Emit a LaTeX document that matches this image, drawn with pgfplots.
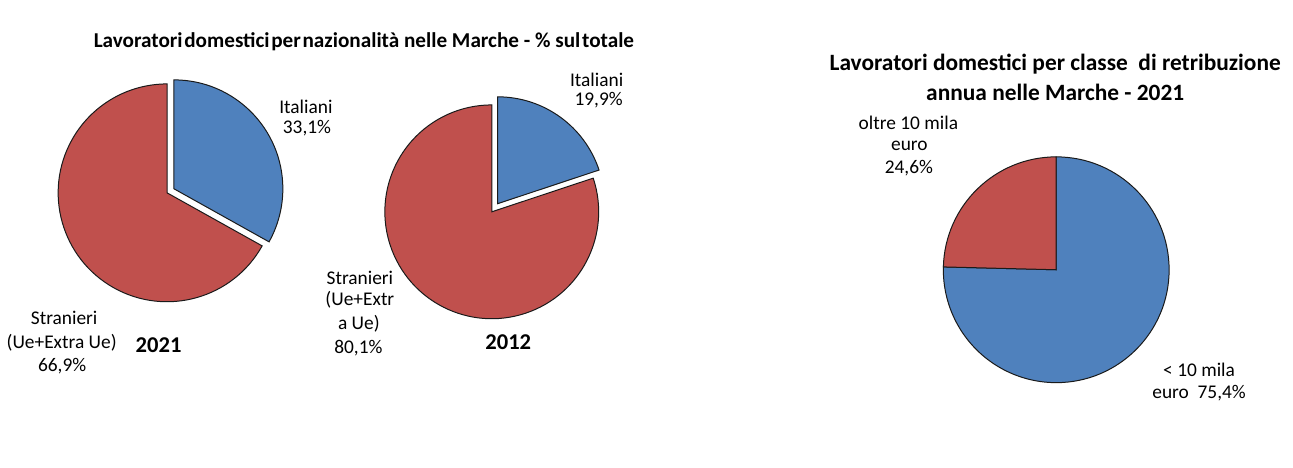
\documentclass[border=0pt]{standalone}
\usepackage{pgfplots}
\usepackage{pgfplotstable}
\pgfplotsset{compat=1.18}
\usepackage{fontspec}
\setmainfont{Carlito}
\definecolor{pieblue}{HTML}{4F81BD}
\definecolor{piered}{HTML}{C0504D}
\definecolor{edge}{HTML}{1A1A1A}

% quote percentuali
\pgfplotstableread{
anno italiani stranieri
2021 33.1     66.9
2012 19.9     80.1
}\nazionalita
\pgfplotstableread{
classe  quota
meno10  75.4
oltre10 24.6
}\retribuzione

\pgfplotstablegetelem{0}{italiani}\of\nazionalita \let\itA\pgfplotsretval
\pgfplotstablegetelem{1}{italiani}\of\nazionalita \let\itB\pgfplotsretval
\pgfplotstablegetelem{0}{quota}\of\retribuzione \let\meno\pgfplotsretval
\pgfmathsetmacro\endA{90-3.6*\itA}
\pgfmathsetmacro\midA{90-1.8*\itA}
\pgfmathsetmacro\endB{90-3.6*\itB}
\pgfmathsetmacro\midB{90-1.8*\itB}
\pgfmathsetmacro\endC{90-3.6*\meno}

\newcommand\lbl{\fontsize{9.7}{11}\selectfont}
\newcommand\ttl{\fontsize{10.6}{12}\selectfont\bfseries}
\newcommand\ttr{\fontsize{11.7}{13}\selectfont\bfseries}
\newcommand\yr{\fontsize{11.3}{13}\selectfont\bfseries}

\begin{document}
\begin{tikzpicture}
\begin{axis}[
    hide axis,
    scale only axis,
    width=646.5pt, height=234pt,
    xmin=0, xmax=1293, ymin=0, ymax=468,
    y dir=reverse,
    clip=false
]
\path (axis cs:0,0) rectangle (axis cs:1293,468);

% 2021
\filldraw[fill=piered, draw=edge, line width=0.5pt]
  (axis cs:166,193) -- ++(\endA:54.5pt)
  arc[start angle=\endA, end angle=-270, radius=54.5pt] -- cycle;
\filldraw[fill=pieblue, draw=edge, line width=0.5pt]
  ([shift={(\midA:4pt)}]axis cs:166,193) -- ++(90:54.5pt)
  arc[start angle=90, end angle=\endA, radius=54.5pt] -- cycle;

% 2012
\filldraw[fill=piered, draw=edge, line width=0.5pt]
  (axis cs:491,212) -- ++(\endB:53.5pt)
  arc[start angle=\endB, end angle=-270, radius=53.5pt] -- cycle;
\filldraw[fill=pieblue, draw=edge, line width=0.5pt]
  ([shift={(\midB:5pt)}]axis cs:491,212) -- ++(90:53.5pt)
  arc[start angle=90, end angle=\endB, radius=53.5pt] -- cycle;

% retribuzione 2021
\filldraw[fill=pieblue, draw=edge, line width=0.5pt]
  (axis cs:1056,270) -- ++(90:56.5pt)
  arc[start angle=90, end angle=\endC, radius=56.5pt] -- cycle;
\filldraw[fill=piered, draw=edge, line width=0.5pt]
  (axis cs:1056,270) -- ++(\endC:56.5pt)
  arc[start angle=\endC, end angle=-270, radius=56.5pt] -- cycle;

% titoli
\node[font=\ttl] at (axis cs:363,41.5)
  {Lavoratori\hspace{0.08em}domestici\hspace{0.08em}per\hspace{0.08em}nazionalità nelle Marche - \% sul\hspace{0.08em}totale};
\node[font=\ttr] at (axis cs:1055,64) {Lavoratori domestici per classe \ di retribuzione};
\node[font=\ttr] at (axis cs:1055,92) {annua nelle Marche - 2021};

% etichette
\node[font=\lbl] at (axis cs:305,107) {Italiani};
\node[font=\lbl] at (axis cs:306,128) {33,1\%};
\node[font=\lbl] at (axis cs:63,318) {Stranieri};
\node[font=\lbl] at (axis cs:60.5,343) {(Ue+Extra Ue)};
\node[font=\lbl] at (axis cs:61,366) {66,9\%};
\node[font=\yr] at (axis cs:157.5,345) {2021};

\node[font=\lbl] at (axis cs:596,80) {Italiani};
\node[font=\lbl] at (axis cs:598,100) {19,9\%};
\node[font=\lbl] at (axis cs:359,278) {Stranieri};
\node[font=\lbl] at (axis cs:359,300.5) {(Ue+Extr};
\node[font=\lbl] at (axis cs:358,324) {a Ue)};
\node[font=\lbl] at (axis cs:357.5,348) {80,1\%};
\node[font=\yr] at (axis cs:507.5,342.5) {2012};

\node[font=\lbl] at (axis cs:908,123) {oltre 10 mila};
\node[font=\lbl] at (axis cs:909,146) {euro};
\node[font=\lbl] at (axis cs:908.5,168) {24,6\%};
\node[font=\lbl] at (axis cs:1199,370.5) {< 10 mila};
\node[font=\lbl] at (axis cs:1199,393) {euro \ 75,4\%};
\end{axis}
\end{tikzpicture}
\end{document}
